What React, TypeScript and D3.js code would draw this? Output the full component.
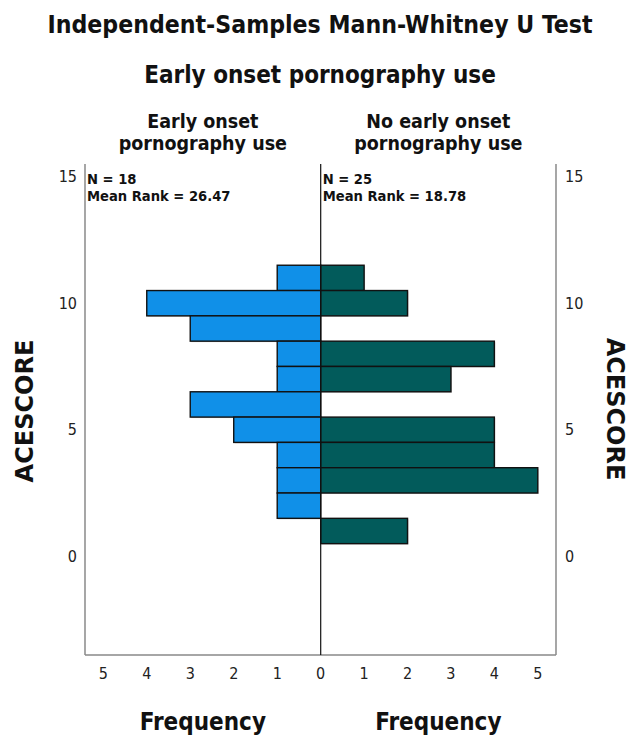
import React from "react";
import * as d3 from "d3";

const scores = [11, 10, 9, 8, 7, 6, 5, 4, 3, 2, 1];
const earlyFreq = [1, 4, 3, 1, 1, 3, 2, 1, 1, 1, 0];
const noEarlyFreq = [1, 2, 0, 4, 3, 0, 4, 4, 5, 0, 2];
const yTicks = [0, 5, 10, 15];
const xTicks = [0, 1, 2, 3, 4, 5];
const groupLabels = [["Early onset", "pornography use"], ["No early onset", "pornography use"]];
const groupStats = [["N = 18", "Mean Rank = 26.47"], ["N = 25", "Mean Rank = 18.78"]];

const W = 630, H = 740;
const LEFT = 85, MID = 320.7, RIGHT = 556, TOP = 164, BOTTOM = 655;
const BLUE = "#1090E8", GREEN = "#025B5B";
const FONT = "'DejaVu Sans Condensed', 'DejaVu Sans', sans-serif";

export default function App() {
  const y = d3.scaleLinear().domain([-3.9, 15.5]).range([BOTTOM, TOP]);
  const xL = d3.scaleLinear().domain([0, 5.42]).range([MID, LEFT]);
  const xR = d3.scaleLinear().domain([0, 5.42]).range([MID, RIGHT]);

  return (
    <svg width={W} height={H} style={{ position: "absolute", left: 0, top: 0, background: "#fff" }} fontFamily={FONT}>
      <text x={320} y={33} textAnchor="middle" fontSize={24.6} fontWeight="bold" fill="#111">Independent-Samples Mann-Whitney U Test</text>
      <text x={320} y={83} textAnchor="middle" fontSize={24} fontWeight="bold" fill="#111">Early onset pornography use</text>
      {groupLabels.map((lines, gi) => {
        const cx = gi === 0 ? (LEFT + MID) / 2 : (MID + RIGHT) / 2;
        return lines.map((t, li) => (
          <text key={gi + "-" + li} x={cx} y={128 + li * 22} textAnchor="middle" fontSize={19.5} fontWeight="bold" fill="#111">{t}</text>
        ));
      })}
      {scores.map((s, i) => earlyFreq[i] > 0 ? (
        <g key={"l" + s}>
          <rect x={xL(earlyFreq[i]) + 1} y={y(s + 0.5) + 1} width={xL(0) - xL(earlyFreq[i])} height={y(s - 0.5) - y(s + 0.5)} fill="#bbb" opacity={0.6} />
          <rect x={xL(earlyFreq[i])} y={y(s + 0.5)} width={xL(0) - xL(earlyFreq[i])} height={y(s - 0.5) - y(s + 0.5)} fill={BLUE} stroke="#111" strokeWidth={1.4} />
        </g>
      ) : null)}
      {scores.map((s, i) => noEarlyFreq[i] > 0 ? (
        <g key={"r" + s}>
          <rect x={xR(0) + 1} y={y(s + 0.5) + 1} width={xR(noEarlyFreq[i]) - xR(0)} height={y(s - 0.5) - y(s + 0.5)} fill="#bbb" opacity={0.6} />
          <rect x={xR(0)} y={y(s + 0.5)} width={xR(noEarlyFreq[i]) - xR(0)} height={y(s - 0.5) - y(s + 0.5)} fill={GREEN} stroke="#111" strokeWidth={1.4} />
        </g>
      ) : null)}
      <line x1={LEFT} x2={LEFT} y1={TOP} y2={BOTTOM} stroke="#777" strokeWidth={1.3} />
      <line x1={RIGHT} x2={RIGHT} y1={TOP} y2={BOTTOM} stroke="#777" strokeWidth={1.3} />
      <line x1={LEFT} x2={RIGHT} y1={BOTTOM} y2={BOTTOM} stroke="#888" strokeWidth={1.5} />
      <line x1={MID} x2={MID} y1={TOP} y2={BOTTOM} stroke="#111" strokeWidth={1.2} />
      {yTicks.map(t => (
        <g key={"yt" + t}>
          <text x={77} y={y(t)} dy="0.35em" textAnchor="end" fontSize={16} fill="#222">{t}</text>
          <text x={565} y={y(t)} dy="0.35em" textAnchor="start" fontSize={16} fill="#222">{t}</text>
        </g>
      ))}
      {xTicks.map(t => (
        <g key={"xt" + t}>
          <text x={xL(t)} y={673} dy="0.35em" textAnchor="middle" fontSize={16} fill="#222">{t}</text>
          {t > 0 ? <text x={xR(t)} y={673} dy="0.35em" textAnchor="middle" fontSize={16} fill="#222">{t}</text> : null}
        </g>
      ))}
      {groupStats.map((lines, gi) => lines.map((t, li) => (
        <text key={"s" + gi + li} x={(gi === 0 ? LEFT : MID) + 2} y={184 + li * 17} fontSize={14.6} fontWeight="bold" fill="#111">{t}</text>
      )))}
      <text x={(LEFT + MID) / 2} y={730} textAnchor="middle" fontSize={24} fontWeight="bold" fill="#111">Frequency</text>
      <text x={(MID + RIGHT) / 2} y={730} textAnchor="middle" fontSize={24} fontWeight="bold" fill="#111">Frequency</text>
      <text transform={`translate(33, 411) rotate(-90)`} textAnchor="middle" fontFamily="'DejaVu Sans', sans-serif" fontSize={24} fontWeight="bold" fill="#111">ACESCORE</text>
      <text transform={`translate(607, 409) rotate(90)`} textAnchor="middle" fontFamily="'DejaVu Sans', sans-serif" fontSize={24} fontWeight="bold" fill="#111">ACESCORE</text>
    </svg>
  );
}
